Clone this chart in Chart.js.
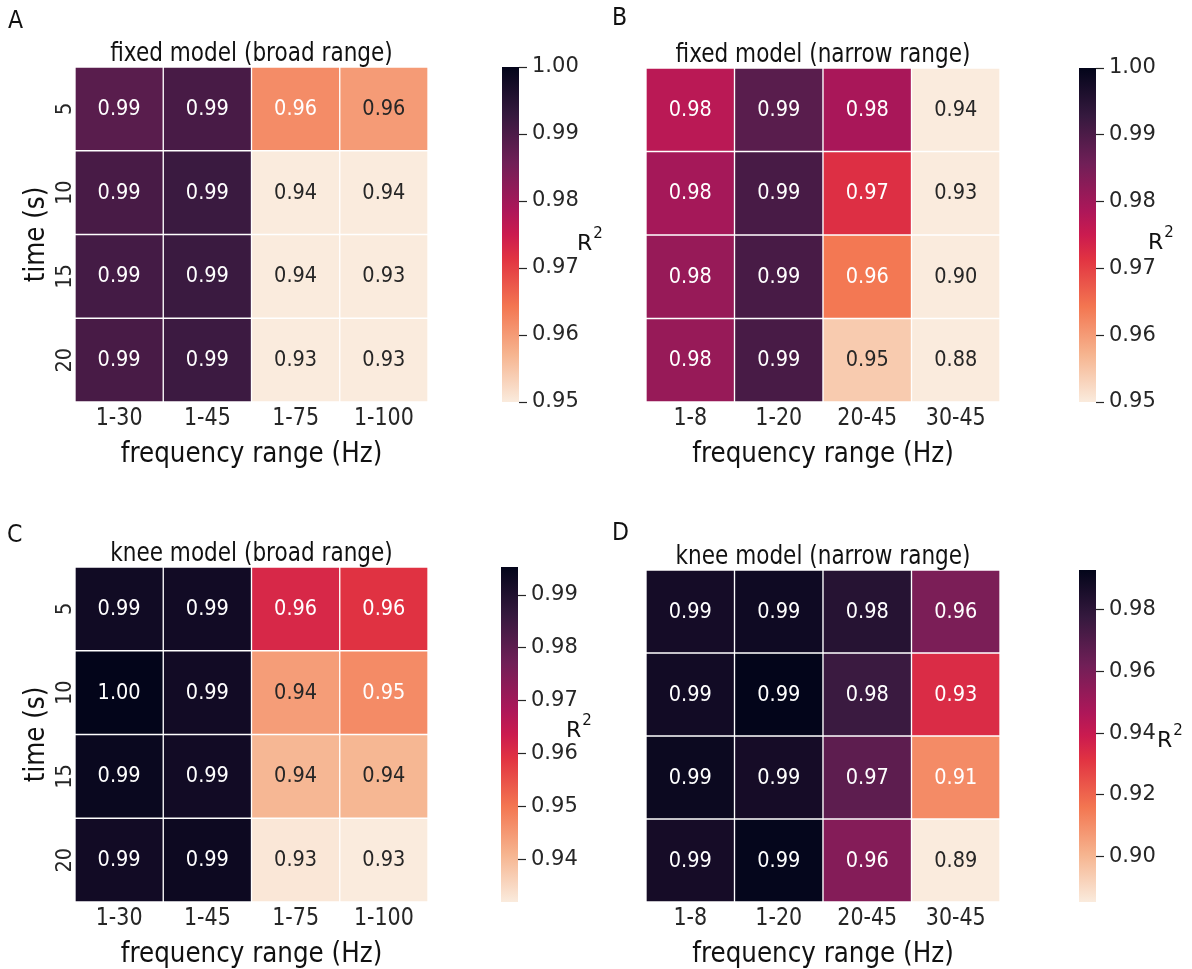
<!DOCTYPE html>
<html>
<head>
<meta charset="utf-8">
<title>R² of fitted aperiodic models</title>
<script src="https://cdn.jsdelivr.net/npm/chart.js@4.4.1/dist/chart.umd.min.js"></script>
<style>
  body { margin: 0; background: #fff; width: 1192px; height: 969px; position: relative; overflow: hidden; }
  canvas { position: absolute; }
</style>
</head>
<body>
<canvas id="heatA" width="470" height="480" style="left:0;top:0"></canvas>
<canvas id="heatB" width="470" height="480" style="left:596px;top:0"></canvas>
<canvas id="cbA" width="120" height="480" style="left:490px;top:0"></canvas>
<canvas id="cbB" width="124" height="480" style="left:1068px;top:0"></canvas>
<canvas id="heatC" width="470" height="469" style="left:0;top:500px"></canvas>
<canvas id="heatD" width="470" height="469" style="left:596px;top:500px"></canvas>
<canvas id="cbC" width="120" height="469" style="left:490px;top:500px"></canvas>
<canvas id="cbD" width="124" height="469" style="left:1068px;top:500px"></canvas>
<script>
// rows: length of the time window, columns: fitted frequency range
const timeLabels = ['5', '10', '15', '20'];
const broadRanges = ['1-30', '1-45', '1-75', '1-100'];
const narrowRanges = ['1-8', '1-20', '20-45', '30-45'];

const fixedBroad = [
  [0.9885, 0.9905, 0.9618, 0.9600],
  [0.9905, 0.9922, 0.9400, 0.9380],
  [0.9910, 0.9922, 0.9400, 0.9320],
  [0.9905, 0.9920, 0.9310, 0.9300]
];
const fixedNarrow = [
  [0.9770, 0.9885, 0.9790, 0.9420],
  [0.9795, 0.9905, 0.9720, 0.9300],
  [0.9812, 0.9905, 0.9640, 0.9000],
  [0.9812, 0.9905, 0.9542, 0.8800]
];
const kneeBroad = [
  [0.9928, 0.9925, 0.9611, 0.9592],
  [0.9953, 0.9926, 0.9443, 0.9469],
  [0.9940, 0.9925, 0.9404, 0.9405],
  [0.9925, 0.9935, 0.9326, 0.9319]
];
const kneeNarrow = [
  [0.9873, 0.9890, 0.9820, 0.9594],
  [0.9880, 0.9927, 0.9760, 0.9337],
  [0.9900, 0.9870, 0.9670, 0.9108],
  [0.9870, 0.9920, 0.9570, 0.8854]
];

// colour bar ticks
const fixedTicks = [0.95, 0.96, 0.97, 0.98, 0.99, 1.00];
const kneeBroadTicks = [0.94, 0.95, 0.96, 0.97, 0.98, 0.99];
const kneeNarrowTicks = [0.90, 0.92, 0.94, 0.96, 0.98];

const FONT = "'DejaVu Sans', sans-serif";
Chart.defaults.font.family = FONT;
Chart.defaults.color = '#262626';

// rocket colormap, dark -> light
const rocketStops = [
  [0, [3, 5, 26]], [1 / 7, [53, 25, 62]], [2 / 7, [112, 31, 87]], [3 / 7, [173, 23, 89]],
  [0.5, [203, 27, 79]], [4 / 7, [225, 51, 66]], [5 / 7, [243, 118, 81]], [6 / 7, [246, 180, 143]],
  [1, [250, 235, 221]]
];

function rocket(p) {
  p = Math.min(1, Math.max(0, p));
  for (let i = 1; i < rocketStops.length; i++) {
    const [p1, c1] = rocketStops[i];
    const [p0, c0] = rocketStops[i - 1];
    if (p <= p1) {
      const t = (p - p0) / (p1 - p0);
      return c0.map((c, k) => Math.round(c + (c1[k] - c) * t));
    }
  }
  return rocketStops[rocketStops.length - 1][1];
}

const toCss = c => `rgb(${c[0]},${c[1]},${c[2]})`;

// reversed map: high R² is dark
function colorFor(v, vmin, vmax) {
  return rocket((vmax - v) / (vmax - vmin));
}

function luminance(c) {
  const lin = x => { x /= 255; return x <= 0.03928 ? x / 12.92 : Math.pow((x + 0.055) / 1.055, 2.4); };
  return 0.2126 * lin(c[0]) + 0.7152 * lin(c[1]) + 0.0722 * lin(c[2]);
}

// text with a slightly narrowed face, optionally rotated
function drawText(ctx, text, x, y, o) {
  ctx.save();
  ctx.translate(x, y);
  if (o.rotate) ctx.rotate(o.rotate);
  ctx.scale(o.sx || 1, 1);
  ctx.font = `${o.size}px ${FONT}`;
  ctx.fillStyle = o.color || '#262626';
  ctx.textAlign = o.align || 'center';
  ctx.textBaseline = 'alphabetic';
  ctx.fillText(text, 0, 0);
  ctx.restore();
}

function panelText(cfg) {
  return {
    id: 'panelText',
    afterDatasetsDraw(chart) {
      const ctx = chart.ctx;
      chart.data.datasets.forEach((ds, r) => {
        chart.getDatasetMeta(r).data.forEach((bar, j) => {
          const v = cfg.values[r][j];
          const c = colorFor(v, cfg.vmin, cfg.vmax);
          drawText(ctx, v.toFixed(2), bar.x, (bar.y + bar.base) / 2 + 6, {
            size: 21, sx: 0.92, color: luminance(c) > 0.408 ? '#262626' : '#ffffff'
          });
        });
      });
    },
    afterDraw(chart) {
      const {ctx, chartArea, scales} = chart;
      const midX = (chartArea.left + chartArea.right) / 2;
      drawText(ctx, cfg.title, midX, chartArea.top - 6, { size: 27, sx: 0.8, color: '#111' });
      drawText(ctx, cfg.letter, cfg.letterPos[0], cfg.letterPos[1], { size: 24, sx: 0.92, align: 'left', color: '#111' });

      // column labels and axis title
      scales.x.ticks.forEach((t, i) => {
        drawText(ctx, scales.x.getLabelForValue(t.value), scales.x.getPixelForTick(i), chartArea.bottom + 23, { size: 24, sx: 0.86 });
      });
      drawText(ctx, 'frequency range (Hz)', midX, chartArea.bottom + 60, { size: 28, sx: 0.88, color: '#111' });

      if (cfg.showY) {
        // row labels read bottom to top
        timeLabels.forEach((t, r) => {
          drawText(ctx, t, 71, scales.y.getPixelForValue(r + 0.5), { size: 22, sx: 0.88, rotate: -Math.PI / 2 });
        });
        drawText(ctx, 'time (s)', 44, (chartArea.top + chartArea.bottom) / 2, { size: 28, sx: 0.88, rotate: -Math.PI / 2, color: '#111' });
      }
    }
  };
}

function heatmap(cfg) {
  return new Chart(document.getElementById(cfg.id), {
    type: 'bar',
    data: {
      labels: cfg.cols,
      datasets: cfg.values.map((row, r) => ({
        label: timeLabels[r] + ' s',
        data: row.map(() => [r, r + 1]),
        backgroundColor: row.map(v => toCss(colorFor(v, cfg.vmin, cfg.vmax))),
        borderColor: '#ffffff',
        borderWidth: 1,
        borderSkipped: false,
        grouped: false,
        barPercentage: 1,
        categoryPercentage: 1
      }))
    },
    options: {
      responsive: false,
      animation: false,
      layout: { padding: cfg.padding },
      plugins: { legend: { display: false }, tooltip: { enabled: false } },
      scales: {
        x: {
          type: 'category',
          grid: { display: false },
          border: { display: false },
          ticks: { display: false },
          afterFit: s => { s.height = 64; }
        },
        y: {
          type: 'linear',
          min: 0,
          max: timeLabels.length,
          reverse: true,
          display: false
        }
      }
    },
    plugins: [panelText(cfg)]
  });
}

function gradientFill(chart, cfg) {
  const {ctx, chartArea, scales} = chart;
  if (!chartArea) return toCss(rocket(0.5));
  const g = ctx.createLinearGradient(0, scales.y.getPixelForValue(cfg.vmax), 0, scales.y.getPixelForValue(cfg.vmin));
  rocketStops.forEach(([p, c]) => g.addColorStop(p, toCss(c)));
  return g;
}

function r2Label(cfg) {
  return {
    id: 'r2Label',
    afterDraw(chart) {
      const ctx = chart.ctx;
      const [x, y] = cfg.labelPos;
      drawText(ctx, 'R', x, y, { size: 22, align: 'left', color: '#111' });
      ctx.font = `22px ${FONT}`;
      const w = ctx.measureText('R').width;
      drawText(ctx, '2', x + w + 1, y - 12, { size: 15, align: 'left', color: '#111' });
    }
  };
}

function colorbar(cfg) {
  return new Chart(document.getElementById(cfg.id), {
    type: 'bar',
    data: {
      labels: ['R²'],
      datasets: [{
        data: [[cfg.vmin, cfg.vmax]],
        backgroundColor: c => gradientFill(c.chart, cfg),
        borderWidth: 0,
        barPercentage: 1,
        categoryPercentage: 1
      }]
    },
    options: {
      responsive: false,
      animation: false,
      layout: { padding: cfg.padding },
      plugins: { legend: { display: false }, tooltip: { enabled: false } },
      scales: {
        x: { display: false },
        y: {
          position: 'right',
          min: cfg.vmin,
          max: cfg.vmax,
          afterBuildTicks: s => { s.ticks = cfg.ticks.map(v => ({ value: v })); },
          ticks: { callback: v => v.toFixed(2), font: { size: 21 }, color: '#262626', padding: 5, autoSkip: false },
          grid: { drawOnChartArea: false, drawTicks: true, tickLength: 8, tickColor: '#262626', tickWidth: 1.2 },
          border: { display: false },
          afterFit: s => { s.width = cfg.axisWidth; }
        }
      }
    },
    plugins: [r2Label(cfg)]
  });
}

const minOf = m => Math.min(...m.flat());
const maxOf = m => Math.max(...m.flat());

const panels = [
  { id: 'heatA', values: fixedBroad, cols: broadRanges, vmin: 0.95, vmax: 1.00, showY: true,
    title: 'fixed model (broad range)', letter: 'A', letterPos: [8, 28],
    padding: { left: 75, right: 42, top: 67, bottom: 14 },
    bar: { id: 'cbA', ticks: fixedTicks, padding: { left: 12, right: 0, top: 67, bottom: 78 }, axisWidth: 91, labelPos: [87, 250] } },
  { id: 'heatB', values: fixedNarrow, cols: narrowRanges, vmin: 0.95, vmax: 1.00, showY: false,
    title: 'fixed model (narrow range)', letter: 'B', letterPos: [16, 25],
    padding: { left: 50, right: 66, top: 68, bottom: 14 },
    bar: { id: 'cbB', ticks: fixedTicks, padding: { left: 11, right: 0, top: 68, bottom: 78 }, axisWidth: 96, labelPos: [80, 249] } },
  { id: 'heatC', values: kneeBroad, cols: broadRanges, vmin: minOf(kneeBroad), vmax: maxOf(kneeBroad), showY: true,
    title: 'knee model (broad range)', letter: 'C', letterPos: [7, 42],
    padding: { left: 75, right: 42, top: 67, bottom: 3 },
    bar: { id: 'cbC', ticks: kneeBroadTicks, padding: { left: 11, right: 0, top: 67, bottom: 67 }, axisWidth: 92, labelPos: [76, 237] } },
  { id: 'heatD', values: kneeNarrow, cols: narrowRanges, vmin: minOf(kneeNarrow), vmax: maxOf(kneeNarrow), showY: false,
    title: 'knee model (narrow range)', letter: 'D', letterPos: [16, 40],
    padding: { left: 50, right: 66, top: 70, bottom: 3 },
    bar: { id: 'cbD', ticks: kneeNarrowTicks, padding: { left: 11, right: 0, top: 70, bottom: 67 }, axisWidth: 96, labelPos: [89, 247] } }
];

panels.forEach(p => {
  heatmap(p);
  colorbar(Object.assign({ vmin: p.vmin, vmax: p.vmax }, p.bar));
});
</script>
</body>
</html>
